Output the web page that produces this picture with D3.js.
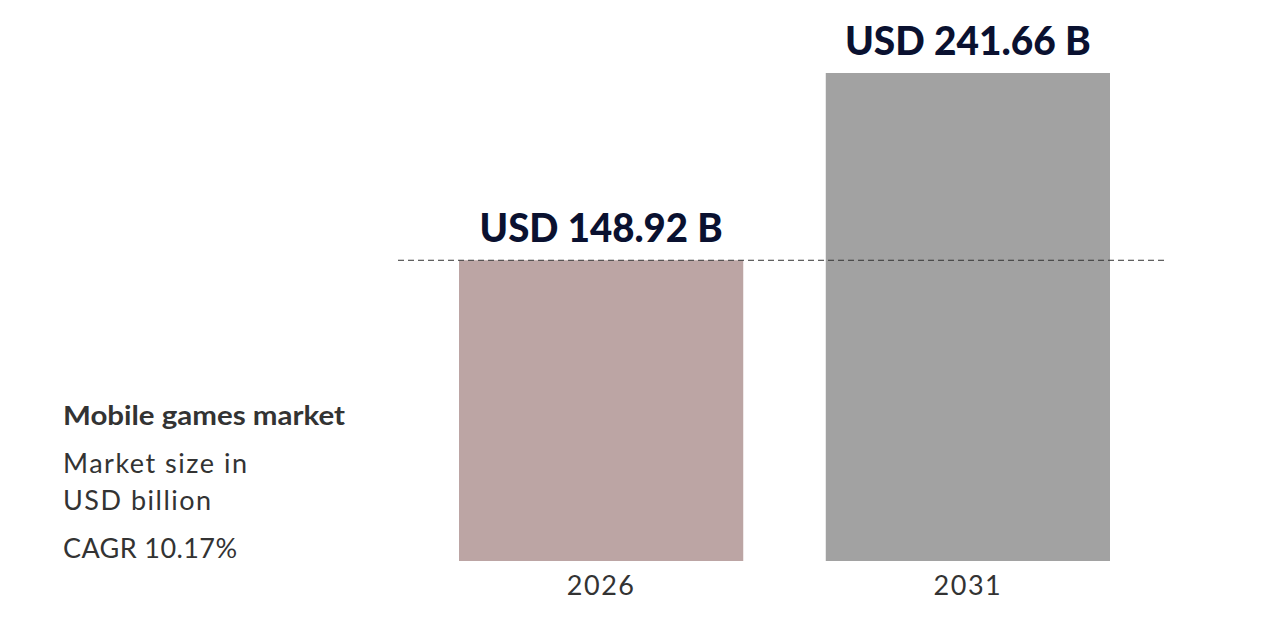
<!DOCTYPE html>
<html><head><meta charset="utf-8">
<script src="https://cdn.jsdelivr.net/npm/d3@7"></script>
<style>body{margin:0;background:#fff}svg{display:block}</style>
</head><body>
<svg id="c" width="1281" height="629"></svg>
<script>
const years = ["2026", "2031"];
const values = [148.92, 241.66];
const valueLabels = ["USD 148.92 B", "USD 241.66 B"];
const barColors = ["#bca5a4", "#a2a2a2"];
const titleLines = ["Mobile games market"];
const subLines = ["Market size in", "USD billion"];
const cagrLine = "CAGR 10.17%";

const svg = d3.select("#c");
const font = "Lato, 'Open Sans', sans-serif";
const x = d3.scaleBand().domain(years).range([459, 1110]).paddingInner(0.225).paddingOuter(0);
const y = d3.scaleLinear().domain([0, 241.66]).range([561, 73]);

svg.selectAll("rect.bar").data(years).join("rect")
  .attr("class","bar")
  .attr("x", d => x(d)).attr("width", x.bandwidth())
  .attr("y", (d,i) => y(values[i])).attr("height", (d,i) => y(0) - y(values[i]))
  .attr("fill", (d,i) => barColors[i]);

svg.append("line")
  .attr("x1", 398).attr("x2", 1168)
  .attr("y1", y(values[0])).attr("y2", y(values[0]))
  .attr("stroke", "#333").attr("stroke-width", 1).attr("stroke-dasharray", "6,4");

const lw = [243, 246];
svg.selectAll("text.val").data(years).join("text")
  .attr("class","val")
  .attr("x", d => x(d) + x.bandwidth()/2)
  .attr("y", (d,i) => y(values[i]) - 18)
  .attr("text-anchor","middle")
  .attr("font-family", font).attr("font-weight", 900).attr("font-size", 40)
  .attr("fill", "#0a1130")
  .attr("textLength", (d,i) => lw[i]).attr("lengthAdjust","spacingAndGlyphs")
  .text((d,i) => valueLabels[i]);

const xAxis = d3.axisBottom(x).tickSize(0).tickPadding(0);
const gx = svg.append("g").attr("transform", `translate(0,${y(0)})`).call(xAxis);
gx.select(".domain").remove();
gx.selectAll("text").attr("dy", null).attr("y", 34)
  .attr("font-family", font).attr("font-size", 27).attr("fill", "#333")
  .attr("letter-spacing", 1.5);

const left = svg.append("g");
left.append("text").attr("x", 63).attr("y", 425)
  .attr("font-family", font).attr("font-weight", 700).attr("font-size", 26).attr("fill", "#333")
  .attr("textLength", 282).attr("lengthAdjust","spacingAndGlyphs")
  .text(titleLines[0]);
subLines.forEach((t,i) => left.append("text").attr("x", 63).attr("y", 473 + i*37)
  .attr("font-family", font).attr("font-size", 27).attr("fill", "#333")
  .attr("letter-spacing", 1.5)
  .text(t));
left.append("text").attr("x", 63).attr("y", 558)
  .attr("font-family", font).attr("font-size", 27).attr("fill", "#333")
  .attr("letter-spacing", 0.4)
  .text(cagrLine);
</script>
</body></html>
